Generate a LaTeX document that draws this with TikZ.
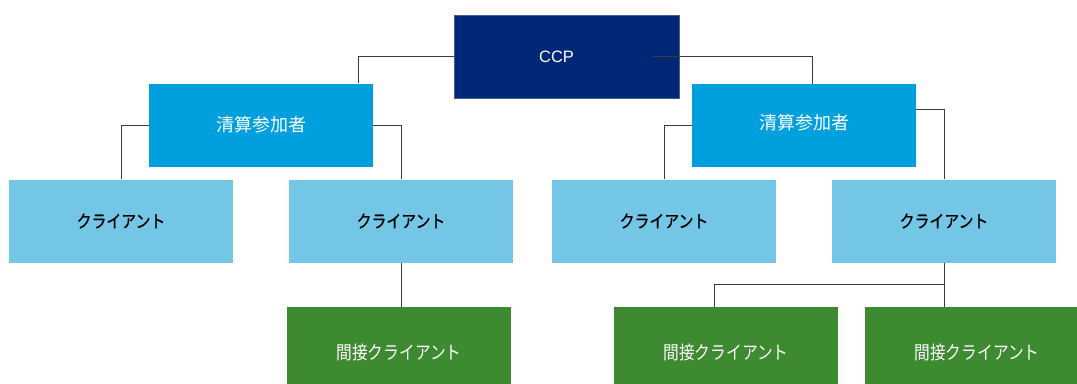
\documentclass[tikz,border=0pt]{standalone}
\usepackage{fontspec}
\setmainfont{Noto Sans CJK JP}
\newfontfamily\latinfont{Liberation Sans}
\newfontfamily\narrowfont[FakeStretch=0.85]{Noto Sans CJK JP}
\newfontfamily\narrowboldfont[FakeStretch=0.85,FakeBold=0.6]{Noto Sans CJK JP}
\definecolor{ccpblue}{RGB}{0,40,118}
\definecolor{ccpedge}{RGB}{70,95,150}
\definecolor{memberblue}{RGB}{0,160,223}
\definecolor{clientblue}{RGB}{115,198,230}
\definecolor{indirectgreen}{RGB}{61,138,49}
\definecolor{linegray}{RGB}{60,60,60}
\begin{document}
\begin{tikzpicture}[x=1bp, y=-1bp,
    every node/.style={rectangle,inner sep=0pt,minimum width=224bp,minimum height=83bp},
    ccpbox/.style={fill=ccpblue,draw=ccpedge,line width=0.8bp,minimum width=225bp,text=white,font=\fontsize{16.5bp}{18bp}\selectfont\latinfont},
    memberbox/.style={fill=memberblue,text=white,font=\fontsize{18bp}{20bp}\selectfont},
    clientbox/.style={fill=clientblue,text=black,font=\fontsize{17.5bp}{20bp}\selectfont\narrowboldfont},
    indirectbox/.style={fill=indirectgreen,text=white,minimum height=90bp,font=\fontsize{18.5bp}{20bp}\selectfont\narrowfont},
    link/.style={draw=linegray,line width=0.9bp}]
    \useasboundingbox (0,0) rectangle (1077,383);

    %––––– row 1 –––––
    \node (ccp) at (566.5,56.5) [ccpbox] {CCP\hspace*{20bp}};

    %––––– row 2 –––––
    \node (lp) at (261,125) [memberbox] {清算参加者};
    \draw[link] (ccp.west) -| ([xshift=97bp]lp.north);

    \node (rp) at (804,125.5) [memberbox] {\raisebox{7bp}{清算参加者}};
    \draw[link] ([xshift=86bp]ccp.center) -| ([xshift=8bp]rp.north);

    %––––– row 3 –––––
    \node (c1) at (121,221) [clientbox] {クライアント};
    \draw[link] (lp.west) -| (c1.north);

    \node (c2) at (401,221) [clientbox] {クライアント};
    \draw[link] (lp.east) -| (c2.north);

    \node (c3) at (664,221) [clientbox] {クライアント};
    \draw[link] (rp.west) -| (c3.north);

    \node (c4) at (944,221) [clientbox] {クライアント};
    \draw[link] ([yshift=16.5bp]rp.east) -| (c4.north);

    %––––– row 4 –––––
    \node (g1) at (399,352) [indirectbox] {間接クライアント};
    \draw[link] (c2.south) -- (c2.south |- g1.north);

    \node (g2) at (726,352) [indirectbox] {間接クライアント};
    \draw[link] (c4.south) -- ++(0,22) -| ([xshift=-12bp]g2.north);

    \node (g3) at (977,352) [indirectbox] {間接クライアント};
    \draw[link] (c4.south) -- (c4.south |- g3.north);
\end{tikzpicture}
\end{document}
